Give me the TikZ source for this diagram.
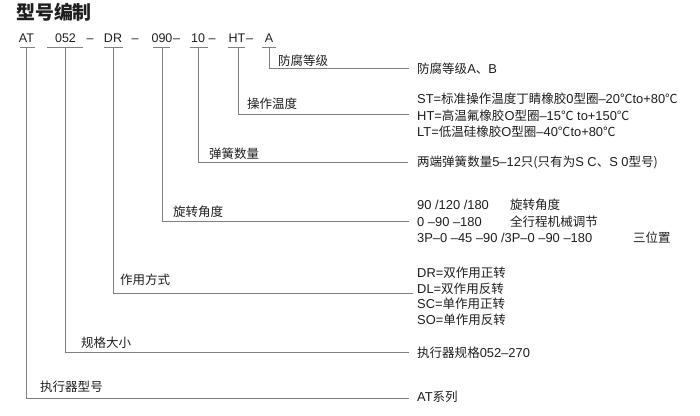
\documentclass[tikz,border=0pt]{standalone}
\usepackage{fontspec}
\setmainfont{Liberation Sans}
\newfontfamily\cjk{Noto Sans CJK SC}[Scale=0.97]
\newcommand\zh[1]{{\cjk #1}}
\usetikzlibrary{positioning}
\definecolor{linegray}{RGB}{128,128,128}
\definecolor{ink}{RGB}{30,30,30}
\tikzset{
  txt/.style={inner sep=0pt,text=ink,font=\fontsize{12.9}{14}\selectfont},
  title/.style={txt,anchor=base west,font=\fontsize{19.5}{22}\selectfont\bfseries},
  code/.style={txt,anchor=base,font=\fontsize{12.5}{14}\selectfont},
  tag/.style={txt,anchor=base west},
  desc/.style={txt,anchor=base west},
  ln/.style={draw=linegray,line width=.9pt}
}
\begin{document}
\begin{tikzpicture}[x=1pt,y=-1pt]
\useasboundingbox (0,0) rectangle (700,415);
\node[title] (title) at (16,19) {\zh{型号编制}};
\node[code] (cAT) at (26.5,42) {AT};
\node[code] (c052) at (65.5,42) {052};
\node[code] (d1) at (90,42) {–};
\node[code] (cDR) at (113,42) {DR};
\node[code] (d2) at (135,42) {–};
\node[code] (c090) at (162,42) {090};
\node[code] (d3) at (176.5,42) {–};
\node[code] (c10) at (198,42) {10};
\node[code] (d4) at (212,42) {–};
\node[code] (cHT) at (237,42) {HT};
\node[code] (d5) at (249.5,42) {–};
\node[code] (cA) at (269,42) {A};
\coordinate (uAT) at (26,47);
\coordinate (u052) at (65,47);
\coordinate (uDR) at (113,47);
\coordinate (u090) at (162,47);
\coordinate (u10) at (198,47);
\coordinate (uHT) at (238,47);
\coordinate (uA) at (269,47);
\coordinate (eAT) at (409,398);
\coordinate (e052) at (409,352);
\coordinate (eDR) at (413,293);
\coordinate (e090) at (409,221);
\coordinate (e10) at (408,162);
\coordinate (eHT) at (409,114);
\coordinate (eA) at (409,68);
\draw[ln] (20,47) -- (35,47) (47,47) -- (83,47) (104,47) -- (123,47)
  (153,47) -- (170,47) (190,47) -- (208,47) (228,47) -- (245,47)
  (262,47) -- (276,47);
\draw[ln] (uAT) |- (eAT);
\draw[ln] (u052) |- (e052);
\draw[ln] (uDR) |- (eDR);
\draw[ln] (u090) |- (e090);
\draw[ln] (u10) |- (e10);
\draw[ln] (uHT) |- (eHT);
\draw[ln] (uA) |- (eA);
\node[tag] (tA) at (278,65.5) {\zh{防腐等级}};
\node[tag] (tHT) at (247,108) {\zh{操作温度}};
\node[tag] (t10) at (209,158) {\zh{弹簧数量}};
\node[tag] (t090) at (173,216.5) {\zh{旋转角度}};
\node[tag] (tDR) at (120,284) {\zh{作用方式}};
\node[tag] (t052) at (81,347) {\zh{规格大小}};
\node[tag] (tAT) at (40,391) {\zh{执行器型号}};
\node[desc] (dA) at (417,73.5) {\zh{防腐等级}A\zh{、}B};
\node[desc] (dST) at (417,103.5)
  {ST=\zh{标准操作温度丁睛橡胶}0\zh{型圈}–20\zh{℃}to+80\zh{℃}};
\node[desc] (dHT) at ([yshift=-16.5pt]dST.base west)
  {HT=\zh{高温氟橡胶}O\zh{型圈}–15\zh{℃} to+150\zh{℃}};
\node[desc] (dLT) at ([yshift=-16.5pt]dHT.base west)
  {LT=\zh{低温硅橡胶}O\zh{型圈}–40\zh{℃}to+80\zh{℃}};
\node[desc] (d10) at (417,166.5) {\zh{两端弹簧数量}5–12\zh{只(只有为}S C\zh{、}S 0\zh{型号)}};
\node[desc] (dR1) at (417,209.5) {90 /120 /180};
\node[desc] (dR1b) at (510,209.5) {\zh{旋转角度}};
\node[desc] (dR2) at ([yshift=-16.5pt]dR1.base west) {0 –90 –180};
\node[desc] (dR2b) at ([yshift=-16.5pt]dR1b.base west) {\zh{全行程机械调节}};
\node[desc] (dR3) at ([yshift=-16.5pt]dR2.base west) {3P–0 –45 –90 /3P–0 –90 –180};
\node[desc] (dR3b) at (633,242.5) {\zh{三位置}};
\node[desc] (dDR) at (417,277.5) {DR=\zh{双作用正转}};
\node[desc] (dDL) at ([yshift=-15.5pt]dDR.base west) {DL=\zh{双作用反转}};
\node[desc] (dSC) at ([yshift=-15.5pt]dDL.base west) {SC=\zh{单作用正转}};
\node[desc] (dSO) at ([yshift=-15.5pt]dSC.base west) {SO=\zh{单作用反转}};
\node[desc] (d052) at (417,357.5) {\zh{执行器规格}052–270};
\node[desc] (dAT) at (417,401.5) {AT\zh{系列}};
\end{tikzpicture}
\end{document}
